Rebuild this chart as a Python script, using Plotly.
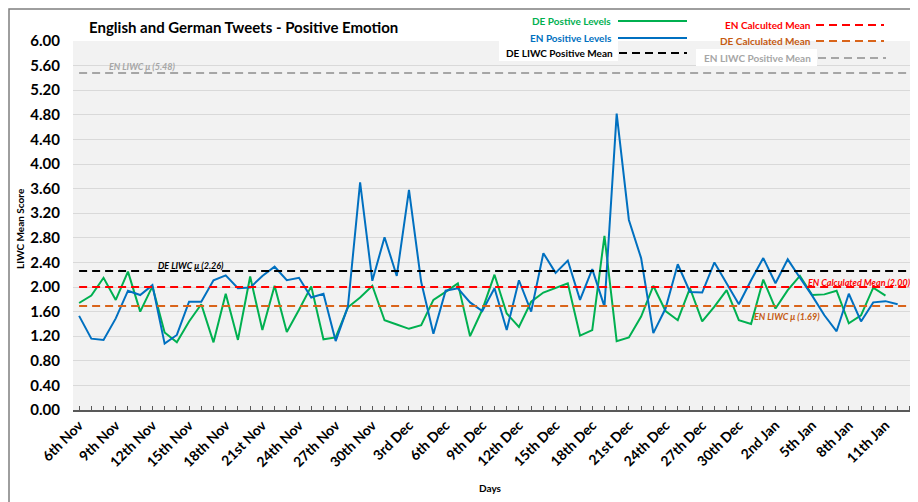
import plotly.graph_objects as go

# ---------------- data ----------------
tick_labels = ["6th Nov", "9th Nov", "12th Nov", "15th Nov", "18th Nov", "21st Nov",
               "24th Nov", "27th Nov", "30th Nov", "3rd Dec", "6th Dec", "9th Dec",
               "12th Dec", "15th Dec", "18th Dec", "21st Dec", "24th Dec", "27th Dec",
               "30th Dec", "2nd Jan", "5th Jan", "8th Jan", "11th Jan"]
n_days = 69  # 6th Nov .. 13th Jan

en_positive = [1.53, 1.16, 1.14, 1.49, 1.94, 1.87, 2.03, 1.08, 1.22, 1.76,
               1.76, 2.11, 2.19, 1.98, 1.99, 2.18, 2.33, 2.11, 2.15, 1.83,
               1.89, 1.12, 1.68, 3.70, 2.10, 2.81, 2.18, 3.58, 2.08, 1.24,
               1.94, 1.98, 1.75, 1.61, 1.98, 1.30, 2.11, 1.60, 2.55, 2.23,
               2.43, 1.79, 2.29, 1.68, 4.82, 3.09, 2.47, 1.25, 1.65, 2.37,
               1.92, 1.91, 2.40, 2.06, 1.72, 2.11, 2.47, 2.06, 2.45, 2.15,
               1.86, 1.54, 1.28, 1.89, 1.44, 1.75, 1.77, 1.72]

de_positive = [1.74, 1.86, 2.15, 1.79, 2.25, 1.60, 2.01, 1.26, 1.10, 1.44,
               1.72, 1.10, 1.89, 1.14, 2.17, 1.30, 2.02, 1.27, 1.63, 2.01,
               1.15, 1.18, 1.67, 1.83, 2.02, 1.46, 1.39, 1.32, 1.38, 1.79,
               1.92, 2.06, 1.20, 1.63, 2.20, 1.57, 1.35, 1.76, 1.91, 1.98,
               2.06, 1.21, 1.30, 2.83, 1.12, 1.18, 1.52, 2.02, 1.61, 1.46,
               1.98, 1.44, 1.68, 1.95, 1.46, 1.40, 2.12, 1.65, 1.95, 2.18,
               1.87, 1.88, 1.94, 1.41, 1.54, 1.99, 1.86]

en_liwc_mean = 5.48
de_liwc_mean = 2.26
en_calc_mean = 2.00
de_calc_mean = 1.69

# ---------------- styling ----------------
FONT = "Lato"
GREEN = "#00b050"
BLUE = "#0070c0"
RED = "#ff0000"
ORANGE = "#d9641a"
ORANGE_TXT = "#c55a11"
GRAY = "#a6a6a6"
BLACK = "#000000"
DASH = "8px,5px"

# page offset (default body margin of the html page)
OFF = 8
W, H = 918, 502
# plot area in page pixels: x 73..916, y 41..410
L = 73 - OFF
T = 41 - OFF
R = W - (916 - OFF)
B = H - (410 - OFF)
PW, PH = W - L - R, H - T - B


def px(x):
    return (x - OFF - L) / PW


def py(y):
    return (H - B - (y - OFF)) / PH


fig = go.Figure()
fig.add_trace(go.Scatter(x=list(range(len(de_positive))), y=de_positive, mode="lines",
                         line=dict(color=GREEN, width=2), name="DE Postive Levels"))
fig.add_trace(go.Scatter(x=list(range(len(en_positive))), y=en_positive, mode="lines",
                         line=dict(color=BLUE, width=2), name="EN Positive Levels"))

shapes = []
# mean lines (data coords)
for val, col in [(en_liwc_mean, GRAY), (de_liwc_mean, BLACK),
                 (en_calc_mean, RED), (de_calc_mean, ORANGE)]:
    shapes.append(dict(type="line", xref="x", yref="y", x0=0, x1=n_days - 1, y0=val, y1=val,
                       line=dict(color=col, width=2, dash=DASH)))

# outer frame
shapes.append(dict(type="rect", xref="paper", yref="paper", x0=px(9), x1=px(940),
                   y0=py(540), y1=py(9), line=dict(color="#7f7f7f", width=1.5)))

# legend boxes
shapes.append(dict(type="rect", xref="paper", yref="paper", x0=px(499), x1=px(618),
                   y0=py(61), y1=py(41), fillcolor="white", line=dict(width=0)))
shapes.append(dict(type="rect", xref="paper", yref="paper", x0=px(696), x1=px(817),
                   y0=py(66), y1=py(49), fillcolor="white", line=dict(width=0)))

legend_items = [
    ("DE Postive Levels", GREEN, GREEN, "solid", 613, 618, 687, 21),
    ("EN Positive Levels", BLUE, BLUE, "solid", 614, 618, 687, 38),
    ("DE LIWC Positive Mean", BLACK, BLACK, DASH, 615, 619, 687, 53),
    ("EN Calculted Mean", RED, RED, DASH, 813, 816, 884, 25),
    ("DE Calculated Mean", ORANGE_TXT, ORANGE, DASH, 813, 816, 884, 41),
    ("EN LIWC Positive Mean", GRAY, GRAY, DASH, 813, 818, 886, 58),
]
annotations = []
for text, tcol, lcol, dash, tx, lx0, lx1, ly in legend_items:
    shapes.append(dict(type="line", xref="paper", yref="paper", x0=px(lx0), x1=px(lx1),
                       y0=py(ly), y1=py(ly), line=dict(color=lcol, width=2, dash=dash)))
    annotations.append(dict(xref="paper", yref="paper", x=px(tx), y=py(ly), text=text,
                            showarrow=False, xanchor="right", yanchor="middle",
                            font=dict(family=FONT, size=10, color=tcol, weight="bold")))

# mean labels on chart
for text, col, x, y in [("EN LIWC μ (5.48)", GRAY, 107, 66),
                        ("DE LIWC μ (2.26)", BLACK, 156, 265),
                        ("EN Calculated Mean (2.00)", RED, 806, 282),
                        ("EN LIWC μ (1.69)", ORANGE_TXT, 752, 316)]:
    annotations.append(dict(xref="paper", yref="paper", x=px(x), y=py(y), text=text,
                            showarrow=False, xanchor="left", yanchor="middle",
                            font=dict(family=FONT, size=9, color=col, weight="bold",
                                      style="italic")))

# title and axis titles
annotations.append(dict(xref="paper", yref="paper", x=px(87), y=py(27),
                        text="English and German Tweets - Positive Emotion", showarrow=False,
                        xanchor="left", yanchor="middle",
                        font=dict(family=FONT, size=15, color=BLACK, weight="bold")))
annotations.append(dict(xref="paper", yref="paper", x=px(20), y=py(228),
                        text="LIWC Mean Score", showarrow=False, textangle=-90,
                        xanchor="center", yanchor="middle",
                        font=dict(family=FONT, size=10, color=BLACK, weight="bold")))
annotations.append(dict(xref="paper", yref="paper", x=px(490), y=py(488),
                        text="Days", showarrow=False, xanchor="center", yanchor="middle",
                        font=dict(family=FONT, size=10, color=BLACK, weight="bold")))

fig.update_layout(
    width=W, height=H,
    margin=dict(l=L, r=R, t=T, b=B, pad=0),
    paper_bgcolor="white",
    plot_bgcolor="#f2f2f2",
    showlegend=False,
    shapes=shapes,
    annotations=annotations,
    font=dict(family=FONT, color=BLACK),
)

fig.update_xaxes(
    range=[-0.5, n_days - 0.5],
    tickmode="array",
    tickvals=list(range(0, 3 * len(tick_labels), 3)),
    ticktext=tick_labels,
    tickangle=-45,
    tickfont=dict(family=FONT, size=14, color=BLACK, weight="bold"),
    showgrid=False,
    zeroline=False,
    showline=True, linecolor="#595959", linewidth=1.5,
    ticks="inside", ticklen=4, tickcolor="#595959", tickwidth=1,
    minor=dict(dtick=1, tick0=0, ticks="inside", ticklen=4, tickcolor="#595959", tickwidth=1),
)
fig.update_yaxes(
    range=[0, 6],
    dtick=0.4, tick0=0,
    tickformat=".2f",
    tickfont=dict(family=FONT, size=15, color=BLACK, weight="bold"),
    showgrid=True, gridcolor="#d9d9d9", gridwidth=1,
    zeroline=False, showline=False,
    ticks="", ticklabelstandoff=12,
)

fig.write_html("out.html")
